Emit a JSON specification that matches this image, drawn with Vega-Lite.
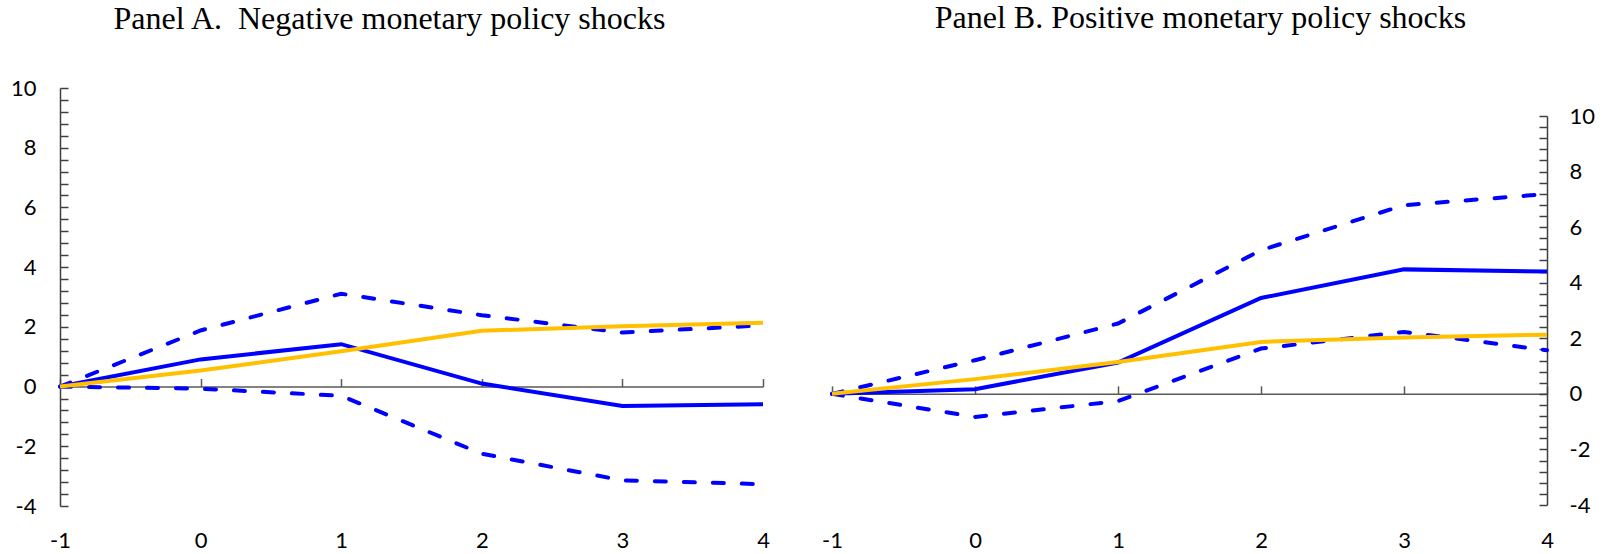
{
  "$schema": "https://vega.github.io/schema/vega-lite/v6.json",
  "padding": {"left": 10, "top": 2, "right": 0, "bottom": 0},
  "background": "white",
  "config": {"view": {"stroke": null}, "axis": {"labelFont": "Lato", "labelFontSize": 22, "labelColor": "black", "grid": false, "title": null}},
  "data": {"values": [
    {"panel": "A", "series": "Upper", "h": -1, "value": 0},
    {"panel": "A", "series": "Upper", "h": 0, "value": 1.88},
    {"panel": "A", "series": "Upper", "h": 1, "value": 3.11},
    {"panel": "A", "series": "Upper", "h": 2, "value": 2.39},
    {"panel": "A", "series": "Upper", "h": 3, "value": 1.81},
    {"panel": "A", "series": "Upper", "h": 4, "value": 2.05},
    {"panel": "A", "series": "Lower", "h": -1, "value": 0},
    {"panel": "A", "series": "Lower", "h": 0, "value": -0.07},
    {"panel": "A", "series": "Lower", "h": 1, "value": -0.31},
    {"panel": "A", "series": "Lower", "h": 2, "value": -2.25},
    {"panel": "A", "series": "Lower", "h": 3, "value": -3.14},
    {"panel": "A", "series": "Lower", "h": 4, "value": -3.27},
    {"panel": "A", "series": "Estimate", "h": -1, "value": 0},
    {"panel": "A", "series": "Estimate", "h": 0, "value": 0.91},
    {"panel": "A", "series": "Estimate", "h": 1, "value": 1.42},
    {"panel": "A", "series": "Estimate", "h": 2, "value": 0.1},
    {"panel": "A", "series": "Estimate", "h": 3, "value": -0.65},
    {"panel": "A", "series": "Estimate", "h": 4, "value": -0.59},
    {"panel": "A", "series": "Yellow", "h": -1, "value": 0},
    {"panel": "A", "series": "Yellow", "h": 0, "value": 0.54},
    {"panel": "A", "series": "Yellow", "h": 1, "value": 1.18},
    {"panel": "A", "series": "Yellow", "h": 2, "value": 1.87},
    {"panel": "A", "series": "Yellow", "h": 3, "value": 2.02},
    {"panel": "A", "series": "Yellow", "h": 4, "value": 2.14},
    {"panel": "B", "series": "Upper", "h": -1, "value": 0},
    {"panel": "B", "series": "Upper", "h": 0, "value": 1.21},
    {"panel": "B", "series": "Upper", "h": 1, "value": 2.53},
    {"panel": "B", "series": "Upper", "h": 2, "value": 5.17},
    {"panel": "B", "series": "Upper", "h": 3, "value": 6.79},
    {"panel": "B", "series": "Upper", "h": 4, "value": 7.19},
    {"panel": "B", "series": "Lower", "h": -1, "value": 0},
    {"panel": "B", "series": "Lower", "h": 0, "value": -0.83},
    {"panel": "B", "series": "Lower", "h": 1, "value": -0.26},
    {"panel": "B", "series": "Lower", "h": 2, "value": 1.63},
    {"panel": "B", "series": "Lower", "h": 3, "value": 2.23},
    {"panel": "B", "series": "Lower", "h": 4, "value": 1.57},
    {"panel": "B", "series": "Estimate", "h": -1, "value": 0},
    {"panel": "B", "series": "Estimate", "h": 0, "value": 0.17},
    {"panel": "B", "series": "Estimate", "h": 1, "value": 1.13},
    {"panel": "B", "series": "Estimate", "h": 2, "value": 3.45},
    {"panel": "B", "series": "Estimate", "h": 3, "value": 4.48},
    {"panel": "B", "series": "Estimate", "h": 4, "value": 4.4},
    {"panel": "B", "series": "Yellow", "h": -1, "value": 0},
    {"panel": "B", "series": "Yellow", "h": 0, "value": 0.53},
    {"panel": "B", "series": "Yellow", "h": 1, "value": 1.15},
    {"panel": "B", "series": "Yellow", "h": 2, "value": 1.87},
    {"panel": "B", "series": "Yellow", "h": 3, "value": 2.03},
    {"panel": "B", "series": "Yellow", "h": 4, "value": 2.13}
  ]},
  "spacing": 50,
  "hconcat": [
    {
      "width": 703,
      "height": 418,
      "title": {"text": "Panel A.\u00a0 Negative monetary policy shocks", "font": "Liberation Serif", "fontSize": 32, "fontWeight": "normal", "color": "black", "anchor": "middle", "dx": -22, "offset": 16, "frame": "group", "baseline": "alphabetic"},
      "transform": [{"filter": "datum.panel === 'A'"}],
      "resolve": {"axis": {"x": "independent"}},
      "layer": [
        {
          "transform": [{"filter": "datum.series === 'Upper' || datum.series === 'Lower'"}],
          "mark": {"type": "line", "color": "#0000FF", "strokeWidth": 4, "strokeDash": [11, 18], "strokeCap": "round"},
          "encoding": {
            "x": {"field": "h", "type": "quantitative", "scale": {"domain": [-1, 4], "nice": false, "zero": false},
                  "axis": {"orient": "bottom", "values": [-1, 0, 1, 2, 3, 4], "tickCount": 100, "domain": false, "ticks": false, "labelPadding": 24, "labelFlush": false, "labelOverlap": false, "labelExpr": "'' + datum.value"}},
            "y": {"field": "value", "type": "quantitative", "scale": {"domain": [-4, 10], "nice": false, "zero": false},
                  "axis": {"orient": "left", "values": [-4, -3.6, -3.2, -2.8, -2.4, -2, -1.6, -1.2, -0.8, -0.4, 0, 0.4, 0.8, 1.2, 1.6, 2, 2.4, 2.8, 3.2, 3.6, 4, 4.4, 4.8, 5.2, 5.6, 6, 6.4, 6.8, 7.2, 7.6, 8, 8.4, 8.8, 9.2, 9.6, 10],
                           "tickCount": 100, "labelExpr": "datum.value % 2 === 0 ? '' + datum.value : ''", "labelOverlap": false, "labelFlush": false, "tickSize": -8, "labelPadding": 32, "domainColor": "#404040", "tickColor": "#404040", "domainWidth": 1.5, "tickWidth": 1.5}},
            "detail": {"field": "series"}
          }
        },
        {
          "transform": [{"filter": "datum.series === 'Estimate'"}],
          "mark": {"type": "line", "color": "#0000FF", "strokeWidth": 4},
          "encoding": {
            "x": {"field": "h", "type": "quantitative", "axis": null},
            "y": {"field": "value", "type": "quantitative"}
          }
        },
        {
          "transform": [{"filter": "datum.series === 'Yellow'"}],
          "mark": {"type": "line", "color": "#FFC000", "strokeWidth": 4},
          "encoding": {
            "x": {"field": "h", "type": "quantitative", "axis": null},
            "y": {"field": "value", "type": "quantitative"}
          }
        },
        {
          "mark": {"type": "point", "opacity": 0},
          "encoding": {
            "x": {"field": "h", "type": "quantitative",
                  "axis": {"orient": "top", "offset": -298.57, "values": [-1, 0, 1, 2, 3, 4], "tickCount": 100, "labels": false, "ticks": true, "tickSize": 8, "domain": true, "domainColor": "#595959", "tickColor": "#595959", "domainWidth": 1.5, "tickWidth": 1.5}},
            "y": {"field": "value", "type": "quantitative"}
          }
        }
      ]
    },
    {
      "width": 715,
      "height": 418,
      "title": {"text": "Panel B. Positive monetary policy shocks", "font": "Liberation Serif", "fontSize": 32, "fontWeight": "normal", "color": "black", "anchor": "middle", "dx": 11, "offset": 28, "frame": "group", "baseline": "alphabetic"},
      "transform": [{"filter": "datum.panel === 'B'"}],
      "resolve": {"axis": {"x": "independent"}},
      "layer": [
        {
          "transform": [{"filter": "datum.series === 'Upper' || datum.series === 'Lower'"}],
          "mark": {"type": "line", "color": "#0000FF", "strokeWidth": 4, "strokeDash": [11, 18], "strokeCap": "round"},
          "encoding": {
            "x": {"field": "h", "type": "quantitative", "scale": {"domain": [-1, 4], "nice": false, "zero": false},
                  "axis": {"orient": "bottom", "values": [-1, 0, 1, 2, 3, 4], "tickCount": 100, "domain": false, "ticks": false, "labelPadding": 24, "labelFlush": false, "labelOverlap": false, "labelExpr": "'' + datum.value"}},
            "y": {"field": "value", "type": "quantitative", "scale": {"domain": [-4, 10], "nice": false, "zero": false, "range": [417, 28]},
                  "axis": {"orient": "right", "values": [-4, -3.6, -3.2, -2.8, -2.4, -2, -1.6, -1.2, -0.8, -0.4, 0, 0.4, 0.8, 1.2, 1.6, 2, 2.4, 2.8, 3.2, 3.6, 4, 4.4, 4.8, 5.2, 5.6, 6, 6.4, 6.8, 7.2, 7.6, 8, 8.4, 8.8, 9.2, 9.6, 10],
                           "tickCount": 100, "labelExpr": "datum.value % 2 === 0 ? '' + datum.value : ''", "labelOverlap": false, "labelFlush": false, "labelAlign": "left", "tickSize": -8, "labelPadding": 30, "domainColor": "#404040", "tickColor": "#404040", "domainWidth": 1.5, "tickWidth": 1.5}},
            "detail": {"field": "series"}
          }
        },
        {
          "transform": [{"filter": "datum.series === 'Estimate'"}],
          "mark": {"type": "line", "color": "#0000FF", "strokeWidth": 4},
          "encoding": {
            "x": {"field": "h", "type": "quantitative", "axis": null},
            "y": {"field": "value", "type": "quantitative"}
          }
        },
        {
          "transform": [{"filter": "datum.series === 'Yellow'"}],
          "mark": {"type": "line", "color": "#FFC000", "strokeWidth": 4},
          "encoding": {
            "x": {"field": "h", "type": "quantitative", "axis": null},
            "y": {"field": "value", "type": "quantitative"}
          }
        },
        {
          "mark": {"type": "point", "opacity": 0},
          "encoding": {
            "x": {"field": "h", "type": "quantitative",
                  "axis": {"orient": "top", "offset": -305.86, "values": [-1, 0, 1, 2, 3, 4], "tickCount": 100, "labels": false, "ticks": true, "tickSize": 8, "domain": true, "domainColor": "#595959", "tickColor": "#595959", "domainWidth": 1.5, "tickWidth": 1.5}},
            "y": {"field": "value", "type": "quantitative"}
          }
        }
      ]
    }
  ]
}
